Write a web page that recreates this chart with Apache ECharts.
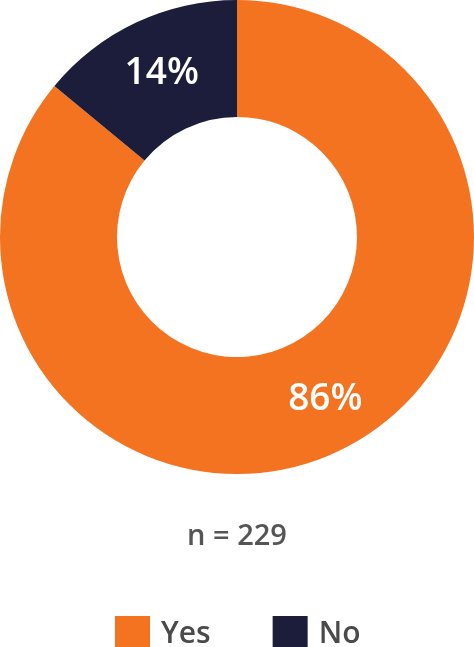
<!DOCTYPE html>
<html><head><meta charset="utf-8">
<script src="https://cdn.jsdelivr.net/npm/echarts@6/dist/echarts.min.js"></script>
<style>html,body{margin:0;padding:0;background:#fff}#c{width:474px;height:647px}</style>
</head><body><div id="c"></div>
<script>
const categories = ["Yes", "No"];
const values = [86, 14];
const colors = ["#F47321", "#1B1D3A"];
const sampleNote = "n = 229";

const labelOffsets = [[11, -2], [2, 1]];
const chart = echarts.init(document.getElementById('c'));
chart.setOption({
  animation: false,
  title: {
    text: sampleNote, left: 'center', top: 517,
    textStyle: { fontFamily: 'Open Sans', fontSize: 29, fontWeight: 600, color: '#555555' }
  },
  legend: {
    data: categories, left: 110, top: 611, itemWidth: 35, itemHeight: 36, itemGap: 62,
    icon: 'rect',
    textStyle: { fontFamily: 'Open Sans', fontSize: 30, fontWeight: 600, color: '#4A4A4A', padding: [0,0,0,6] }
  },
  series: [{
    type: 'pie', center: [237, 237], radius: [120, 237], startAngle: 90, clockwise: true,
    silent: true,
    label: { show: true, position: 'inside', formatter: '{d}%', color: '#fff',
      fontFamily: 'Open Sans', fontSize: 37, fontWeight: 600 },
    labelLine: { show: false },
    data: categories.map((c, i) => ({ name: c, value: values[i], itemStyle: { color: colors[i] },
      label: { offset: labelOffsets[i] } }))
  }]
});
</script></body></html>
